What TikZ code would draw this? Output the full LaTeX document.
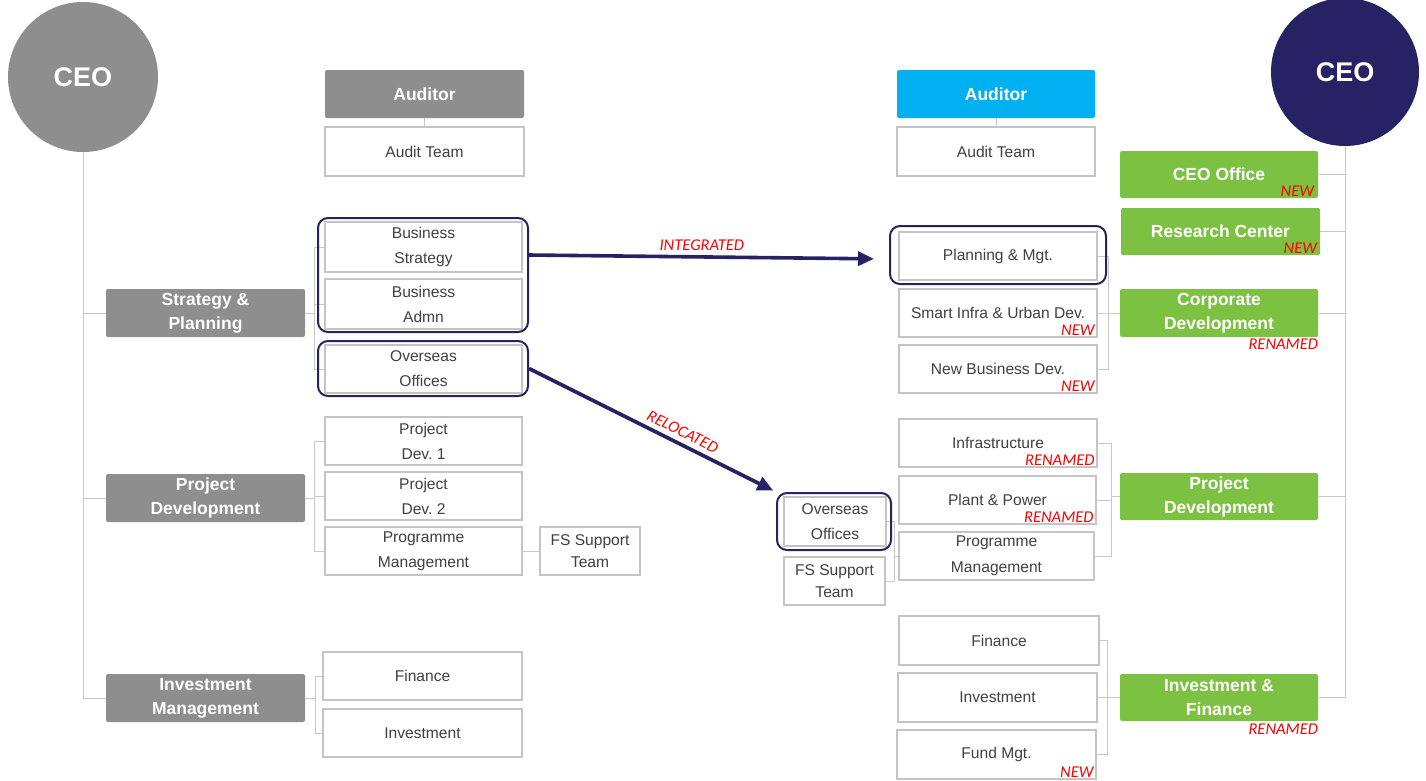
\documentclass[tikz,border=0pt]{standalone}
\usepackage{fontspec}
\setmainfont{Liberation Sans}
\newfontfamily\tagfont{Carlito}
\usetikzlibrary{arrows.meta}
\frenchspacing
\definecolor{grayc}{HTML}{8E8E8E}
\definecolor{leaf}{HTML}{7DC142}
\definecolor{sky}{HTML}{00B0F0}
\definecolor{ink}{HTML}{262264}
\definecolor{linec}{HTML}{C8C8C8}
\definecolor{bordc}{HTML}{C4C4C4}
\definecolor{txt}{HTML}{404040}
\begin{document}
\frenchspacing
\begin{tikzpicture}[x=1pt,y=-1pt,
 wbox/.style={draw=bordc, line width=1.5pt, fill=white, text=txt, minimum width=198pt, minimum height=48pt, inner sep=0pt, align=center, font=\fontsize{15.6}{25}\selectfont},
 gbox/.style={fill=grayc, rounded corners=2pt, text=white, minimum width=199pt, minimum height=48pt, inner sep=0pt, align=center, font=\fontsize{17.5}{24}\selectfont\bfseries},
 lbox/.style={gbox, fill=leaf},
 ceo/.style={circle, minimum size=150pt, inner sep=0pt, text=white, font=\fontsize{27}{27}\selectfont\bfseries},
 conn/.style={draw=linec, line width=1pt},
 hl/.style={draw=ink, line width=2pt, rounded corners=10pt, inner sep=0pt},
 arr/.style={draw=ink, line width=3.6pt, -{Triangle[length=16pt,width=14pt]}},
 tag/.style={text=red, font=\fontsize{16.5}{16.5}\selectfont\tagfont\itshape, inner sep=0pt}
]
\useasboundingbox (0,0) rectangle (1426,780);

% ---------- left chart ----------
\node[ceo, fill=grayc] (ceoL) at (83,77) {CEO};
\node[gbox] (audL) at (424.5,94) {Auditor};
\node[wbox, minimum width=199pt, minimum height=49pt] (audTL) at (424.5,151.5) {Audit Team};
\node[gbox] (stratL) at (205.5,313) {Strategy \&\\Planning};
\node[gbox] (projL) at (205.5,498) {Project\\Development};
\node[gbox] (invL) at (205.5,698) {Investment\\Management};
\node[wbox, minimum width=197pt, minimum height=50pt] (bs) at (423.5,247) {Business\\Strategy};
\node[wbox, minimum width=197pt, minimum height=50pt] (ba) at (423.5,304) {Business\\Admn};
\node[wbox, minimum width=197pt] (ovL) at (423.5,369) {Overseas\\Offices};
\node[wbox, minimum width=197pt] (pd1) at (423.5,441) {Project\\Dev. 1};
\node[wbox, minimum width=197pt] (pd2) at (423.5,496) {Project\\Dev. 2};
\node[wbox, minimum width=197pt] (pmL) at (423.5,551) {Programme\\Management};
\node[wbox, minimum width=100pt, font=\fontsize{15.6}{22}\selectfont] (fsL) at (590,551) {FS Support\\Team};
\node[wbox, minimum width=199pt] (finL) at (422.5,676) {Finance};
\node[wbox, minimum width=199pt] (invstL) at (422.5,733) {Investment};

\draw[conn] (ceoL.south) |- (invL.west);
\draw[conn] (ceoL.south) |- (stratL.west);
\draw[conn] (ceoL.south) |- (projL.west);
\draw[conn] (audL.south) -- (audTL.north);
\draw[conn] (stratL.east) -- ++(9,0) |- (bs.west);
\draw[conn] (stratL.east) -- ++(9,0) |- (ba.west);
\draw[conn] (stratL.east) -- ++(9,0) |- (ovL.west);
\draw[conn] (projL.east) -- ++(9,0) |- (pd1.west);
\draw[conn] (projL.east) -- ++(9,0) |- (pd2.west);
\draw[conn] (projL.east) -- ++(9,0) |- (pmL.west);
\draw[conn] (pmL.east) -- (fsL.west);
\draw[conn] (invL.east) -- ++(10,0) |- (finL.west);
\draw[conn] (invL.east) -- ++(10,0) |- (invstL.west);

% ---------- right chart ----------
\node[ceo, fill=ink, minimum size=148pt] (ceoR) at (1345,72) {CEO};
\node[gbox, fill=sky, minimum width=198pt] (audR) at (996,94) {Auditor};
\node[wbox, minimum height=49pt] (audTR) at (996,151.5) {Audit Team};
\node[lbox, minimum width=198pt, minimum height=47pt] (ceoOff) at (1219,174.5) {CEO Office};
\node[lbox, minimum height=47pt] (resC) at (1220.5,231.5) {Research Center};
\node[lbox, minimum width=198pt] (corpD) at (1219,313) {Corporate\\Development};
\node[lbox, minimum width=198pt, minimum height=47pt] (projR) at (1219,496.5) {Project\\Development};
\node[lbox, minimum width=198pt, minimum height=47pt] (invF) at (1219,697.5) {Investment \&\\Finance};
\node[wbox] (pmg) at (998,256) {Planning \& Mgt.};
\node[wbox] (smart) at (998,313) {Smart Infra \& Urban Dev.};
\node[wbox] (nbd) at (998,369) {New Business Dev.};
\node[wbox] (infra) at (998,443) {Infrastructure};
\node[wbox, minimum width=197pt] (plant) at (997.5,500) {Plant \& Power};
\node[wbox, minimum width=195pt, font=\fontsize{15.6}{26}\selectfont] (pmR) at (996.5,556) {Programme\\Management};
\node[wbox, minimum width=102pt, minimum height=49pt] (ovR) at (835,521.5) {Overseas\\Offices};
\node[wbox, minimum width=101pt, font=\fontsize{15.6}{22}\selectfont] (fsR) at (834.5,581) {FS Support\\Team};
\node[wbox, minimum width=200pt, minimum height=49pt] (finR) at (999,640.5) {Finance};
\node[wbox, minimum width=199pt, minimum height=49pt] (invR) at (997.5,697.5) {Investment};
\node[wbox, minimum width=199pt, minimum height=49pt] (fund) at (996.5,754.5) {Fund Mgt.};

\draw[conn] (audR.south) -- (audTR.north);
\draw[conn] (ceoR.south) |- (invF.east);
\draw[conn] (ceoR.south) |- (ceoOff.east);
\draw[conn] (ceoR.south) |- (resC.east);
\draw[conn] (ceoR.south) |- (corpD.east);
\draw[conn] (ceoR.south) |- (projR.east);
\draw[conn] (corpD.west) -- ++(-11,0) |- (pmg.east);
\draw[conn] (corpD.west) -- ++(-11,0) |- (smart.east);
\draw[conn] (corpD.west) -- ++(-11,0) |- (nbd.east);
\draw[conn] (projR.west) -- ++(-8,0) |- (infra.east);
\draw[conn] (projR.west) -- ++(-8,0) |- (plant.east);
\draw[conn] (projR.west) -- ++(-8,0) |- (pmR.east);
\draw[conn] (pmR.west) -- ++(-4,0) |- (ovR.east);
\draw[conn] (pmR.west) -- ++(-4,0) |- (fsR.east);
\draw[conn] (invF.west) -- ++(-12,0) |- (finR.east);
\draw[conn] (invF.west) -- ++(-12,0) |- (invR.east);
\draw[conn] (invF.west) -- ++(-12,0) |- (fund.east);

% ---------- tags ----------
\node[tag, anchor=south east] (t1) at ([xshift=-4pt,yshift=2pt]ceoOff.south east) {NEW};
\node[tag, anchor=south east] (t2) at ([xshift=-3pt,yshift=2pt]resC.south east) {NEW};
\node[tag, anchor=north east] (t3) at ([yshift=-2pt]corpD.south east) {RENAMED};
\node[tag, anchor=south east] (t4) at ([xshift=-3pt,yshift=2pt]smart.south east) {NEW};
\node[tag, anchor=south east] (t5) at ([xshift=-3pt,yshift=2pt]nbd.south east) {NEW};
\node[tag, anchor=south east] (t6) at ([xshift=-3pt,yshift=2pt]infra.south east) {RENAMED};
\node[tag, anchor=south east] (t7) at ([xshift=-3pt,yshift=2pt]plant.south east) {RENAMED};
\node[tag, anchor=north east] (t8) at ([yshift=-2pt]invF.south east) {RENAMED};
\node[tag, anchor=south east] (t9) at ([xshift=-3pt,yshift=2pt]fund.south east) {NEW};

% ---------- highlights and arrows ----------
\node[hl, minimum width=210pt, minimum height=114pt] (r1) at (423,275) {};
\node[hl, minimum width=210pt, minimum height=55pt] (r2) at (423,368.5) {};
\node[hl, minimum width=216pt, minimum height=58pt] (r3) at (998,255) {};
\node[hl, minimum width=114pt, minimum height=57pt] (r4) at (834,521.5) {};

\draw[arr, shorten >=15pt] ([yshift=20pt]r1.east) -- node[tag, pos=0.48, above=5pt] (lint) {INTEGRATED} ([yshift=-4pt]r3.west);
\draw[arr, shorten >=3pt] (r2.east) -- node[tag, pos=0.6, sloped, above=5pt] (lrel) {RELOCATED} (r4.north west);
\end{tikzpicture}
\end{document}
